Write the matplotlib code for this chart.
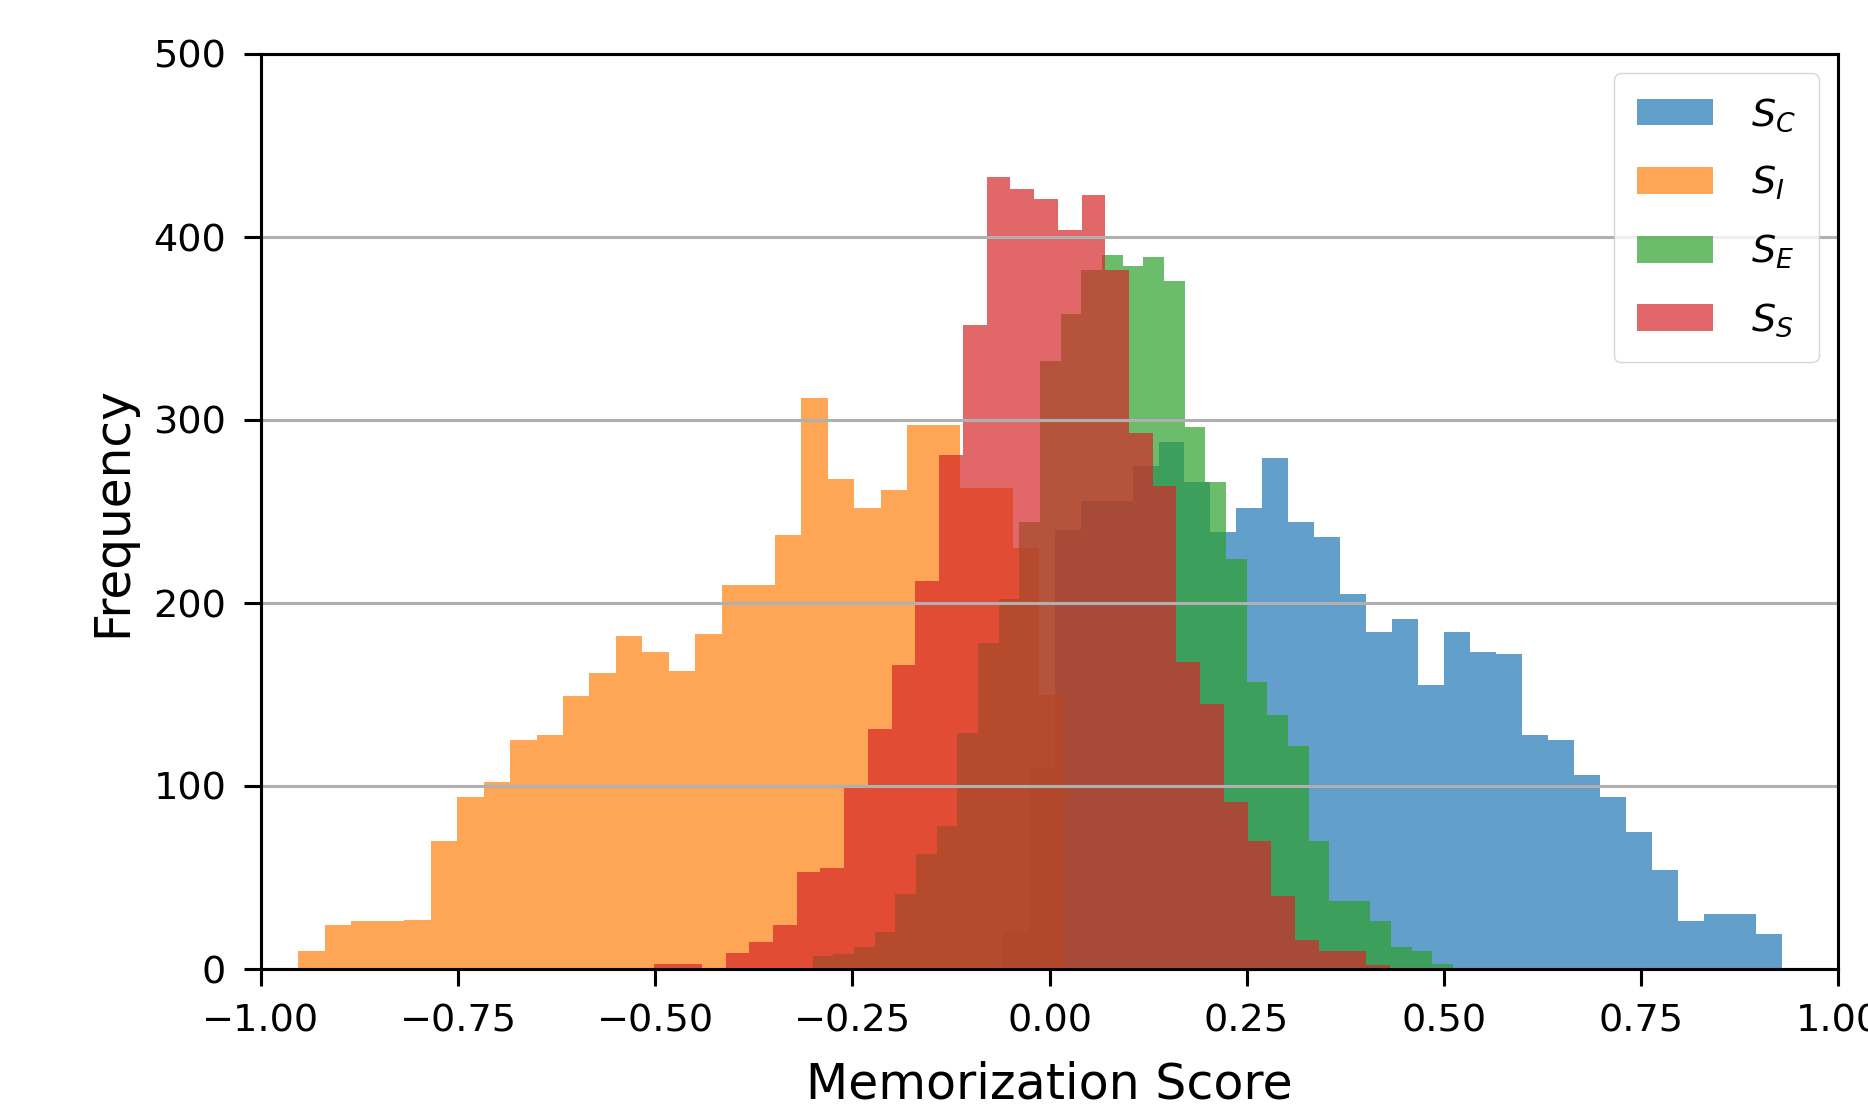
import numpy as np
import matplotlib
matplotlib.use("Agg")
import matplotlib.pyplot as plt

# ---- data (counts per bin) ----
labels = ["$S_C$", "$S_I$", "$S_E$", "$S_S$"]

# S_C (blue)
c_start, c_width = -0.0593, 0.03293
c_counts = [20, 110, 240, 256, 256, 275, 288, 266, 239,
            252, 279, 244, 236, 205, 184, 191, 155, 184, 173, 172,
            128, 125, 106, 94, 75, 54, 26, 30, 30, 19]

# S_I (orange)
i_start, i_width = -0.9527, 0.03357
i_counts = [10, 24, 26, 26, 27, 70, 94, 102, 125, 128, 149, 162, 182, 173,
            163, 183, 210, 210, 237, 312, 268, 252, 262, 297, 297, 263, 263,
            230, 150]

# S_E (green)
e_start, e_width = -0.3003, 0.0262
e_counts = [7, 8, 12, 20, 41, 63, 78, 129, 178, 202, 244, 332, 358, 382, 390,
            384, 389, 376, 296, 266, 224, 157, 139, 122, 70, 37, 37, 26, 12,
            10, 3]

# S_S (red)
s_start, s_width = -0.5012, 0.0301
s_counts = [3, 3, 0, 9, 15, 24, 53, 55, 100, 131, 166, 212, 281, 352, 433,
            426, 421, 404, 423, 382, 293, 264, 168, 145, 91, 70, 40, 16, 10,
            10, 2]

xticks = [-1.0, -0.75, -0.5, -0.25, 0.0, 0.25, 0.5, 0.75, 1.0]
yticks = [0, 100, 200, 300, 400, 500]

S = 2.78  # scale factor relative to default point sizes

fig = plt.figure(figsize=(18.68, 11.07), dpi=100)
ax = fig.add_axes([261 / 1868, 1 - 969 / 1107, (1838 - 261) / 1868, (969 - 54) / 1107])

series = [
    (c_start, c_width, c_counts, "tab:blue", labels[0]),
    (i_start, i_width, i_counts, "tab:orange", labels[1]),
    (e_start, e_width, e_counts, "tab:green", labels[2]),
    (s_start, s_width, s_counts, "tab:red", labels[3]),
]
for start, width, counts, color, lab in series:
    counts = np.asarray(counts, dtype=float)
    edges = start + width * np.arange(len(counts) + 1)
    ax.hist(edges[:-1], bins=edges, weights=counts, alpha=0.7, color=color, label=lab)

ax.set_xlim(-1, 1)
ax.set_ylim(0, 500)
ax.set_xticks(xticks)
ax.set_yticks(yticks)
ax.xaxis.set_major_formatter(matplotlib.ticker.FuncFormatter(lambda v, p: f"{v:.2f}".replace("-", "\u2212")))

ax.grid(axis="y", color="#b0b0b0", linewidth=0.8 * S)
for sp in ax.spines.values():
    sp.set_linewidth(0.8 * S)
ax.tick_params(labelsize=27.5, length=4.5 * S, width=0.8 * S, pad=4.5 * S)

ax.set_xlabel("Memorization Score", fontsize=35.3, labelpad=15)
ax.set_ylabel("Frequency", fontsize=35, labelpad=12)

ax.legend(loc="upper right", fontsize=27.5, borderaxespad=0.5,
          labelspacing=0.8, borderpad=0.6, handletextpad=1.0)

fig.savefig("out.png", dpi=100)
